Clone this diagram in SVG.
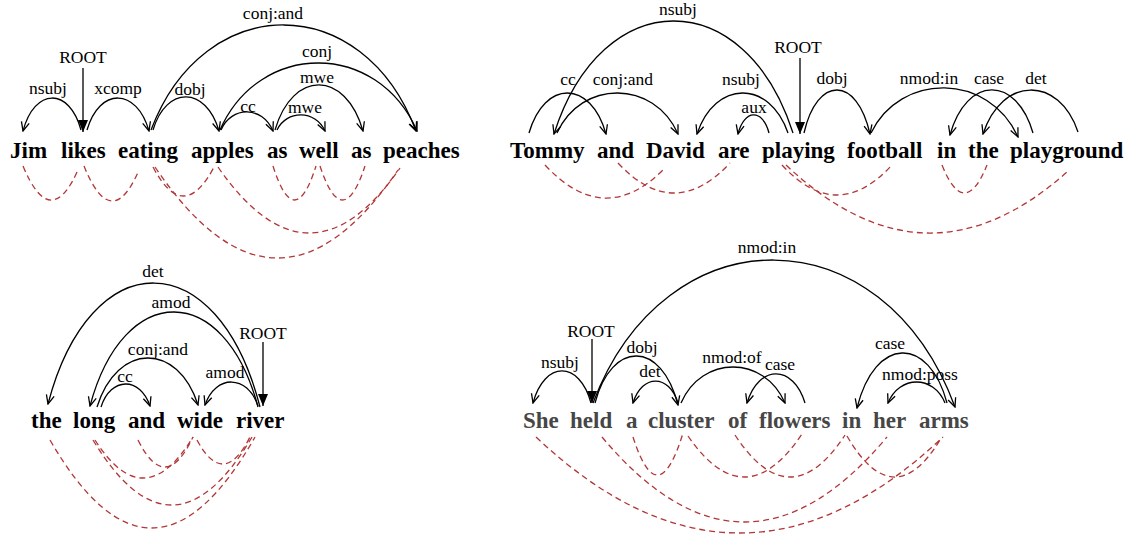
<svg xmlns="http://www.w3.org/2000/svg" width="1132" height="535" viewBox="0 0 1132 535">
<style>
.w{font-family:"Liberation Serif","Times New Roman",serif;font-weight:bold;font-size:23px;fill:#000}
.g .w{fill:#464646}
.l{font-family:"Liberation Serif","Times New Roman",serif;font-size:17.5px;fill:#000;text-anchor:middle}
.a{fill:none;stroke:#000;stroke-width:1.3;marker-end:url(#oa)}
.r{fill:none;stroke:#000;stroke-width:1.3;marker-end:url(#fa)}
.d{fill:none;stroke:#b33636;stroke-width:1.3;stroke-dasharray:6 4}
</style>
<defs>
<marker id="oa" viewBox="-11 -6 12 12" refX="0" refY="0" markerWidth="12" markerHeight="12" orient="auto" markerUnits="userSpaceOnUse">
<path d="M-9,-4 L0,0 L-9,4" fill="none" stroke="#000" stroke-width="1.3"/>
</marker>
<marker id="fa" viewBox="-13 -6 14 12" refX="0" refY="0" markerWidth="14" markerHeight="12" orient="auto" markerUnits="userSpaceOnUse">
<path d="M-12,-5 L0,0 L-12,5 z" fill="#000"/>
</marker>
</defs>

<!-- Sentence 1 -->
<g id="s1">
<g id="s1-jim"><text class="w" x="10" y="158">Jim</text></g>
<g id="s1-likes"><text class="w" x="61" y="158">likes</text></g>
<g id="s1-eating"><text class="w" x="118" y="158">eating</text></g>
<g id="s1-apples"><text class="w" x="191" y="158">apples</text></g>
<g id="s1-as1"><text class="w" x="267" y="158">as</text></g>
<g id="s1-well"><text class="w" x="299" y="158">well</text></g>
<g id="s1-as2"><text class="w" x="351" y="158">as</text></g>
<g id="s1-peaches"><text class="w" x="383" y="158">peaches</text></g>
</g>

<!-- Sentence 2 -->
<g id="s2">
<g id="s2-tommy"><text class="w" x="510" y="158">Tommy</text></g>
<g id="s2-and"><text class="w" x="597" y="158">and</text></g>
<g id="s2-david"><text class="w" x="646" y="158">David</text></g>
<g id="s2-are"><text class="w" x="718" y="158">are</text></g>
<g id="s2-playing"><text class="w" x="762" y="158">playing</text></g>
<g id="s2-football"><text class="w" x="847" y="158">football</text></g>
<g id="s2-in"><text class="w" x="937" y="158">in</text></g>
<g id="s2-the"><text class="w" x="968" y="158">the</text></g>
<g id="s2-playground"><text class="w" x="1010" y="158">playground</text></g>
</g>

<!-- Sentence 3 -->
<g id="s3">
<g id="s3-the"><text class="w" x="31" y="428">the</text></g>
<g id="s3-long"><text class="w" x="73" y="428">long</text></g>
<g id="s3-and"><text class="w" x="128" y="428">and</text></g>
<g id="s3-wide"><text class="w" x="177" y="428">wide</text></g>
<g id="s3-river"><text class="w" x="236" y="428">river</text></g>
</g>

<!-- Sentence 4 -->
<g id="s4" class="g">
<g id="s4-she"><text class="w" x="523" y="428">She</text></g>
<g id="s4-held"><text class="w" x="570" y="428">held</text></g>
<g id="s4-a"><text class="w" x="626" y="428">a</text></g>
<g id="s4-cluster"><text class="w" x="648" y="428">cluster</text></g>
<g id="s4-of"><text class="w" x="728" y="428">of</text></g>
<g id="s4-flowers"><text class="w" x="759" y="428">flowers</text></g>
<g id="s4-in"><text class="w" x="842" y="428">in</text></g>
<g id="s4-her"><text class="w" x="873" y="428">her</text></g>
<g id="s4-arms"><text class="w" x="919" y="428">arms</text></g>
</g>

<g id="connectors">
<!-- S1 top arcs -->
<path class="a" d="M81,130 C69.4,87.2 34.6,87.2 23,131"/>
<path class="r" d="M83,68 L83,132"/>
<path class="a" d="M87,130 C99.4,87.2 136.6,87.2 149,131"/>
<path class="a" d="M153,130 C166.2,85.8 205.8,85.8 219,131"/>
<path class="a" d="M151,130 C204,-10.2 363,-10.2 416,131"/>
<path class="a" d="M220,130 C259.4,40.5 377.6,40.5 417,131"/>
<path class="a" d="M221,130 C231.4,105.8 262.6,105.8 273,131"/>
<path class="a" d="M275,130 C292.6,69.8 345.4,69.8 363,131"/>
<path class="a" d="M277,130 C286.6,109.8 315.4,109.8 325,131"/>
<!-- S1 labels -->
<text class="l" x="48" y="94">nsubj</text>
<text class="l" x="83" y="63">ROOT</text>
<text class="l" x="118" y="94">xcomp</text>
<text class="l" x="190" y="95">dobj</text>
<text class="l" x="273" y="19">conj:and</text>
<text class="l" x="317" y="57">conj</text>
<text class="l" x="317" y="83">mwe</text>
<text class="l" x="248" y="112">cc</text>
<text class="l" x="305" y="113">mwe</text>
<!-- S1 bottom arcs -->
<path class="d" d="M23,166 Q50.5,232 78,170"/>
<path class="d" d="M84,166 Q111.5,234 139,170"/>
<path class="d" d="M153,167 Q183.5,225 214,167"/>
<path class="d" d="M155,167 Q276.5,347.5 398,170"/>
<path class="d" d="M218,167 Q309,298.5 400,168"/>
<path class="d" d="M273,166 Q294.5,234 316,166"/>
<path class="d" d="M320,166 Q342.5,234 365,166"/>

<!-- S2 top arcs -->
<path class="a" d="M793,133 C745.2,-16.5 601.8,-16.5 554,134"/>
<path class="a" d="M529,133 C544.4,79.5 590.6,79.5 606,134"/>
<path class="a" d="M557,133 C581.2,79.5 653.8,79.5 678,134"/>
<path class="a" d="M788,133 C769.8,79.5 715.2,79.5 697,134"/>
<path class="a" d="M769,133 C762.8,108.8 744.2,108.8 738,134"/>
<path class="r" d="M800,58 L800,134"/>
<path class="a" d="M804,133 C817.2,75.5 856.8,75.5 870,134"/>
<path class="a" d="M871,133 C900.4,72.3 988.6,72.3 1018,137"/>
<path class="a" d="M1033,133 C1016.4,75.3 966.6,75.3 950,135"/>
<path class="a" d="M1078,132 C1059,75.7 1002,75.7 983,134"/>
<!-- S2 labels -->
<text class="l" x="678" y="15">nsubj</text>
<text class="l" x="568" y="85">cc</text>
<text class="l" x="623" y="85">conj:and</text>
<text class="l" x="741" y="85">nsubj</text>
<text class="l" x="754" y="113">aux</text>
<text class="l" x="798" y="53">ROOT</text>
<text class="l" x="832" y="84">dobj</text>
<text class="l" x="929" y="84">nmod:in</text>
<text class="l" x="989" y="84">case</text>
<text class="l" x="1036" y="84">det</text>
<!-- S2 bottom arcs -->
<path class="d" d="M545,165 Q604,228.5 663,170"/>
<path class="d" d="M618,163 Q674,223 730,163"/>
<path class="d" d="M782,165 Q837,225 892,165"/>
<path class="d" d="M786,165 Q926,297.5 1067,172"/>
<path class="d" d="M942,165 Q964.5,221 987,165"/>

<!-- S3 top arcs -->
<path class="a" d="M260,407 C217.6,242.2 90.4,242.2 48,404"/>
<path class="a" d="M258,407 C224.4,280.5 123.6,280.5 90,406"/>
<path class="a" d="M97,407 C117.2,342 177.8,342 198,405"/>
<path class="a" d="M101,407 C110.8,376.5 140.2,376.5 150,406"/>
<path class="a" d="M258,406 C247.4,374.2 215.6,374.2 205,405"/>
<path class="r" d="M263,342 L263,406"/>
<!-- S3 labels -->
<text class="l" x="153" y="277">det</text>
<text class="l" x="171" y="308">amod</text>
<text class="l" x="158" y="355">conj:and</text>
<text class="l" x="125" y="382">cc</text>
<text class="l" x="225" y="378">amod</text>
<text class="l" x="263" y="339">ROOT</text>
<!-- S3 bottom arcs -->
<path class="d" d="M50,440 Q152.5,617.5 255,437"/>
<path class="d" d="M93,440 Q172.5,571.5 252,437"/>
<path class="d" d="M95,440 Q144,517.5 193,437"/>
<path class="d" d="M138,440 Q165.5,495.5 193,437"/>
<path class="d" d="M197,440 Q223.5,489.5 250,437"/>

<!-- S4 top arcs -->
<path class="a" d="M593,403 C665.4,211.7 882.6,211.7 955,407"/>
<path class="a" d="M591,403 C579.4,360.3 544.6,360.3 533,403"/>
<path class="r" d="M592,339 L592,403"/>
<path class="a" d="M595,403 C611.6,340 661.4,340 678,405"/>
<path class="a" d="M678,403 C669,373.7 642,373.7 633,403"/>
<path class="a" d="M681,403 C701.8,355 764.2,355 785,403"/>
<path class="a" d="M805,403 C793.4,364.3 758.6,364.3 747,403"/>
<path class="a" d="M947,403 C929,335.5 875,335.5 857,408"/>
<path class="a" d="M945,403 C933.6,375 899.4,375 888,403"/>
<!-- S4 labels -->
<text class="l" x="767" y="253">nmod:in</text>
<text class="l" x="591" y="337">ROOT</text>
<text class="l" x="560" y="368">nsubj</text>
<text class="l" x="642" y="353">dobj</text>
<text class="l" x="650" y="377">det</text>
<text class="l" x="732" y="363">nmod:of</text>
<text class="l" x="780" y="370">case</text>
<text class="l" x="890" y="349">case</text>
<text class="l" x="920" y="380">nmod:poss</text>
<!-- S4 bottom arcs -->
<path class="d" d="M536,437 Q739.5,629 943,437"/>
<path class="d" d="M602,437 Q744.5,607 887,437"/>
<path class="d" d="M633,437 Q658,515 683,433"/>
<path class="d" d="M688,436 Q745,519 802,434"/>
<path class="d" d="M735,435 Q790,519 845,435"/>
<path class="d" d="M847,436 Q893.5,516 940,440"/>
</g>
</svg>
